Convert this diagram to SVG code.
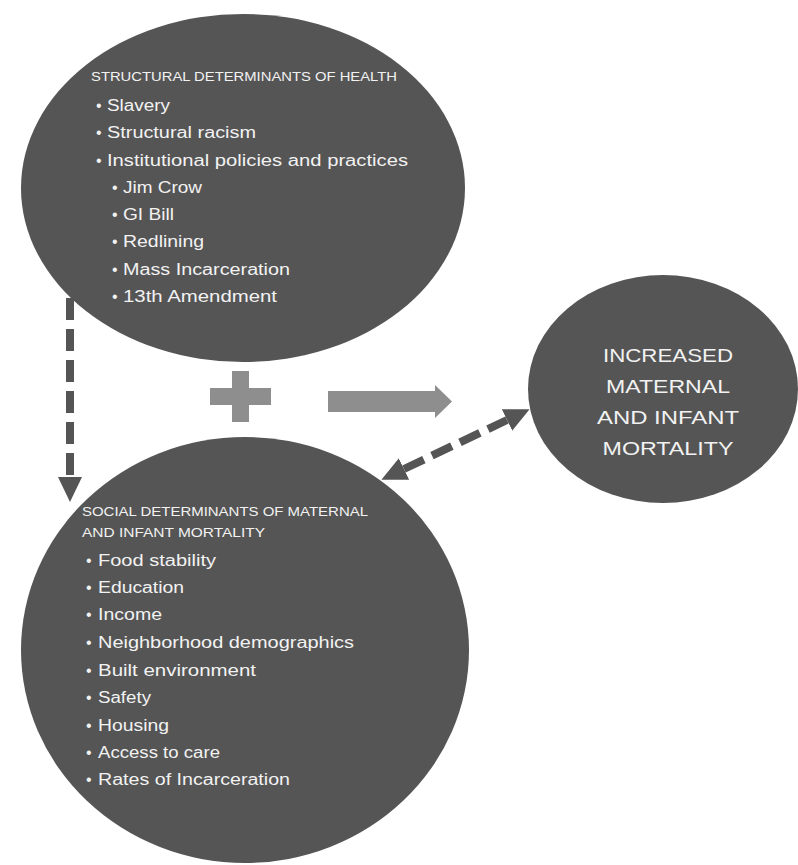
<svg xmlns="http://www.w3.org/2000/svg" width="798" height="865" viewBox="0 0 798 865">
<defs>
<style>
.node{fill:#555555}
.t{font-family:"Liberation Sans",Arial,sans-serif;fill:#f2f2f2}
.hd{font-size:13px}
.it{font-size:16px}
.big{font-size:19px;text-anchor:middle}
.dash{stroke:#555555;stroke-width:8;fill:none;stroke-dasharray:22 9}
.gray{fill:#8e8e8e}
</style>
<marker id="ah" markerUnits="userSpaceOnUse" markerWidth="26" markerHeight="26" refX="0" refY="12" orient="auto-start-reverse" viewBox="0 0 26 24">
<path d="M0,0 L25,12 L0,24 z" fill="#555555"/>
</marker>
</defs>
<rect width="798" height="865" fill="#ffffff"/>

<g id="structural">
<ellipse class="node" cx="243" cy="188" rx="222" ry="174"/>
<text class="t hd" x="91" y="81" textLength="306" lengthAdjust="spacingAndGlyphs">STRUCTURAL DETERMINANTS OF HEALTH</text>
<text class="t it" x="96" y="111">•</text><text class="t it" x="107" y="111" textLength="63" lengthAdjust="spacingAndGlyphs">Slavery</text>
<text class="t it" x="96" y="138">•</text><text class="t it" x="107" y="138" textLength="149" lengthAdjust="spacingAndGlyphs">Structural racism</text>
<text class="t it" x="96" y="166">•</text><text class="t it" x="107" y="166" textLength="301" lengthAdjust="spacingAndGlyphs">Institutional policies and practices</text>
<text class="t it" x="112" y="193">•</text><text class="t it" x="123" y="193" textLength="79" lengthAdjust="spacingAndGlyphs">Jim Crow</text>
<text class="t it" x="112" y="220">•</text><text class="t it" x="123" y="220" textLength="51" lengthAdjust="spacingAndGlyphs">GI Bill</text>
<text class="t it" x="112" y="247">•</text><text class="t it" x="123" y="247" textLength="81" lengthAdjust="spacingAndGlyphs">Redlining</text>
<text class="t it" x="112" y="275">•</text><text class="t it" x="123" y="275" textLength="167" lengthAdjust="spacingAndGlyphs">Mass Incarceration</text>
<text class="t it" x="112" y="302">•</text><text class="t it" x="123" y="302" textLength="154" lengthAdjust="spacingAndGlyphs">13th Amendment</text>
</g>

<g id="social">
<ellipse class="node" cx="245" cy="650" rx="224" ry="213"/>
<text class="t hd" x="82" y="516" textLength="286" lengthAdjust="spacingAndGlyphs">SOCIAL DETERMINANTS OF MATERNAL</text>
<text class="t hd" x="82" y="537" textLength="183" lengthAdjust="spacingAndGlyphs">AND INFANT MORTALITY</text>
<text class="t it" x="86" y="566">•</text><text class="t it" x="98" y="566" textLength="118" lengthAdjust="spacingAndGlyphs">Food stability</text>
<text class="t it" x="86" y="593">•</text><text class="t it" x="98" y="593" textLength="86" lengthAdjust="spacingAndGlyphs">Education</text>
<text class="t it" x="86" y="620">•</text><text class="t it" x="98" y="620" textLength="64" lengthAdjust="spacingAndGlyphs">Income</text>
<text class="t it" x="86" y="648">•</text><text class="t it" x="98" y="648" textLength="256" lengthAdjust="spacingAndGlyphs">Neighborhood demographics</text>
<text class="t it" x="86" y="676">•</text><text class="t it" x="98" y="676" textLength="158" lengthAdjust="spacingAndGlyphs">Built environment</text>
<text class="t it" x="86" y="703">•</text><text class="t it" x="98" y="703" textLength="53" lengthAdjust="spacingAndGlyphs">Safety</text>
<text class="t it" x="86" y="731">•</text><text class="t it" x="98" y="731" textLength="71" lengthAdjust="spacingAndGlyphs">Housing</text>
<text class="t it" x="86" y="758">•</text><text class="t it" x="98" y="758" textLength="122" lengthAdjust="spacingAndGlyphs">Access to care</text>
<text class="t it" x="86" y="785">•</text><text class="t it" x="98" y="785" textLength="192" lengthAdjust="spacingAndGlyphs">Rates of Incarceration</text>
</g>

<g id="outcome">
<ellipse class="node" cx="663" cy="389" rx="135" ry="114"/>
<text class="t big" x="668" y="362" textLength="130" lengthAdjust="spacingAndGlyphs">INCREASED</text>
<text class="t big" x="668" y="393" textLength="124" lengthAdjust="spacingAndGlyphs">MATERNAL</text>
<text class="t big" x="668" y="424" textLength="142" lengthAdjust="spacingAndGlyphs">AND INFANT</text>
<text class="t big" x="668" y="455" textLength="131" lengthAdjust="spacingAndGlyphs">MORTALITY</text>
</g>

<g id="plus">
<rect class="gray" x="210" y="388" width="61" height="17"/>
<rect class="gray" x="232" y="371" width="17" height="51"/>
</g>

<g id="connectors">
<path class="gray" d="M328,391 L435,391 L435,385 L452,401.5 L435,418 L435,412 L328,412 z"/>
<line class="dash" x1="70" y1="298" x2="70" y2="477" marker-end="url(#ah)"/>
<line class="dash" x1="404" y1="469" x2="507" y2="420" marker-start="url(#ah)" marker-end="url(#ah)"/>
</g>
</svg>
